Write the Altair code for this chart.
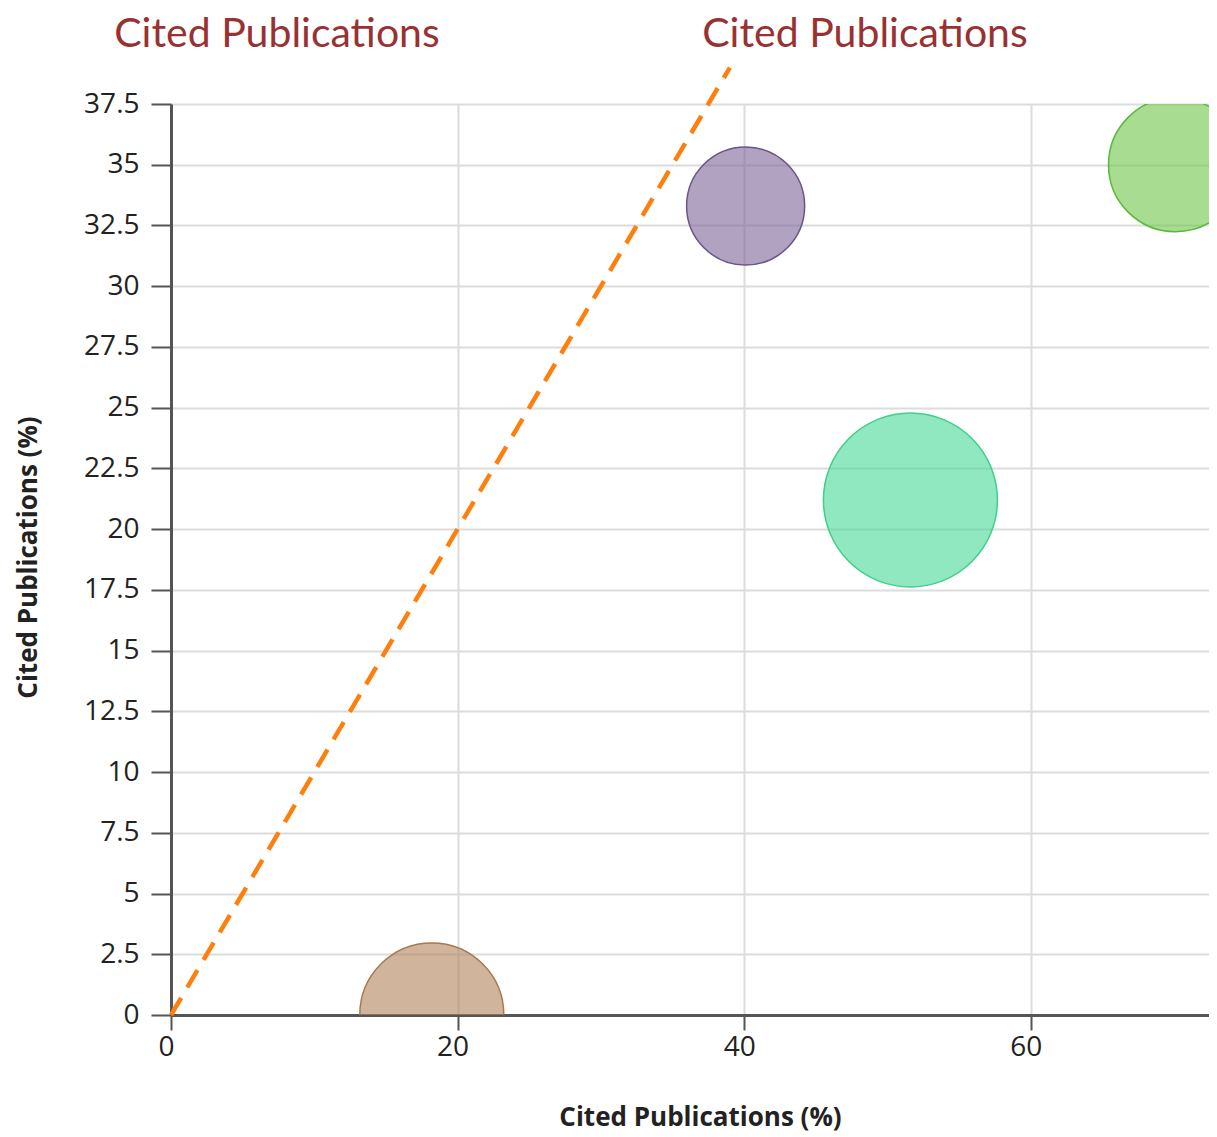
import altair as alt
import pandas as pd

# ---- data ----
names = ["Group A", "Group B", "Group C", "Group D"]
x_vals = [40.1, 51.6, 70.1, 18.2]
y_vals = [33.3, 21.2, 35.0, 0.0]
weights = [38.7, 84.1, 49.9, 57.6]
colors = ["#7b6496", "#46d996", "#6ec546", "#b1825a"]
strokes = ["#6a5488", "#3fcf8a", "#5ab83a", "#a87850"]

line_x = [0, 39]
line_y = [0, 39]

y_ticks = [0, 2.5, 5, 7.5, 10, 12.5, 15, 17.5, 20, 22.5, 25, 27.5, 30, 32.5, 35, 37.5]
x_ticks = [0, 20, 40, 60]
header_texts = ["Cited Publications", "Cited Publications"]
axis_title = "Cited Publications (%)"

bubbles = pd.DataFrame({"name": names, "x": x_vals, "y": y_vals, "w": weights})
line_df = pd.DataFrame({"x": line_x, "y": line_y})

W, H = 1038, 911
FONT = "Open Sans"

xscale = alt.Scale(domain=[0, W / 14.33], nice=False, zero=False)
yscale = alt.Scale(domain=[0, 37.5], nice=False, zero=False)

xaxis = alt.Axis(values=x_ticks, format=".1~f", title=axis_title, grid=True,
                 gridColor="#dcdcdc", gridWidth=2, domainColor="#555", domainWidth=3,
                 tickColor="#555", tickWidth=2, tickSize=15, labelFontSize=28,
                 labelFont=FONT, labelColor="#222", labelPadding=3,
                 labelFlush=False, labelOffset=-5,
                 titleFont=FONT, titleFontSize=26, titleFontWeight="bold", titleColor="#222",
                 titleX=529, titleY=102, titleBaseline="middle")
yaxis = alt.Axis(values=y_ticks, format=".1~f", title=axis_title, grid=True,
                 gridColor="#dcdcdc", gridWidth=2, domainColor="#555", domainWidth=3,
                 tickColor="#555", tickWidth=2, tickSize=20, labelFontSize=28,
                 labelFont=FONT, labelColor="#222", labelPadding=12,
                 titleFont=FONT, titleFontSize=26, titleFontWeight="bold", titleColor="#222",
                 titleX=-143, titleY=453, titleBaseline="middle", titleAngle=-90)

base_pts = alt.Chart(bubbles).mark_circle(clip=True, fillOpacity=0.6, strokeOpacity=1,
                                           strokeWidth=1.5, opacity=1).encode(
    x=alt.X("x:Q", scale=xscale, axis=xaxis),
    y=alt.Y("y:Q", scale=yscale, axis=yaxis),
    size=alt.Size("w:Q", scale=alt.Scale(domain=[0, 100], range=[0, 36000]), legend=None),
    color=alt.Color("name:N", scale=alt.Scale(domain=names, range=colors), legend=None),
    stroke=alt.Stroke("name:N", scale=alt.Scale(domain=names, range=strokes), legend=None),
)

line = alt.Chart(line_df).mark_line(clip=False, color="#ff7f0e", strokeWidth=4.5,
                                     strokeDash=[20, 12]).encode(
    x=alt.X("x:Q", scale=xscale),
    y=alt.Y("y:Q", scale=yscale),
)

hdr_df = pd.DataFrame({"t": header_texts, "px": [277 - 171, 865 - 171]})
headers = alt.Chart(hdr_df).mark_text(font="Lato", fontSize=41, color="#983232",
                                       align="center", baseline="middle", clip=False).encode(
    x=alt.X("px:Q", scale=None),
    y=alt.value(35 - 104),
    text="t:N",
)

chart = alt.layer(base_pts, line, headers).properties(
    width=W, height=H,
    autosize=alt.AutoSizeParams(type="none"),
    padding={"left": 163, "top": 96, "right": 0, "bottom": 118},
).configure_view(stroke=None)

chart.save("out.html", embed_options={"renderer": "svg", "actions": False})
